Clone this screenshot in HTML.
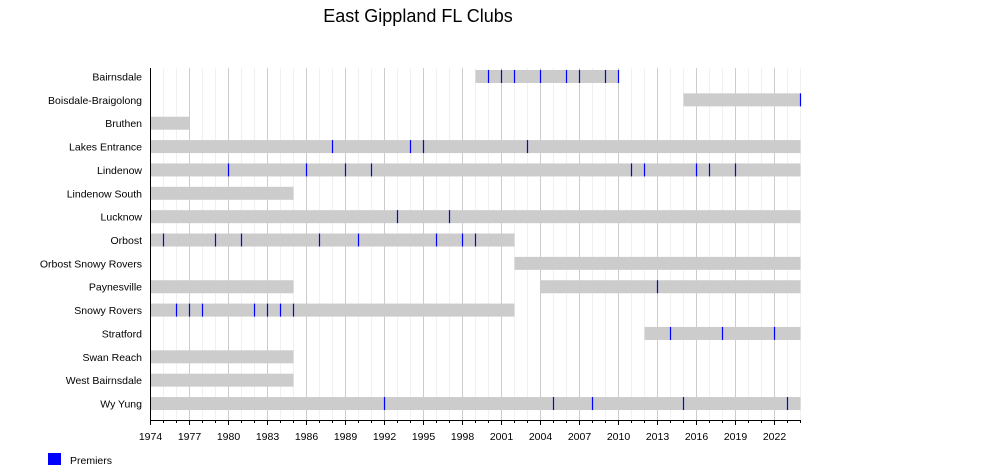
<!DOCTYPE html>
<html><head><meta charset="utf-8"><style>
body{margin:0;background:#fff}
svg text{font-family:"Liberation Sans",sans-serif}
</style></head><body>
<svg width="1000" height="470" xmlns="http://www.w3.org/2000/svg" id="s">
<text x="418" y="22" font-size="18" text-anchor="middle" fill="#000">East Gippland FL Clubs</text>
<g id="grid"></g><g id="bars"></g><g id="axis"></g>
<rect x="48" y="453" width="13" height="12" fill="#0000ff"/>
<text x="70" y="464" font-size="10.5">Premiers</text>
</svg>
<script>
(function(){
const NS="http://www.w3.org/2000/svg";
function el(p,t,a,txt){const e=document.createElementNS(NS,t);for(const k in a)e.setAttribute(k,a[k]);if(txt)e.textContent=txt;document.getElementById(p).appendChild(e);}
const X=y=>150.5+(y-1974)*13;
const T=68,B=420;
for(let y=1975;y<=2024;y++){el('grid','line',{x1:X(y),x2:X(y),y1:T,y2:B,stroke:(y-1974)%3==0?'#cccccc':'#f0f0f0','stroke-width':1});}
const rows=[
["Bairnsdale",[[1999,2010]],[2000,2001,2002,2004,2006,2007,2009,2010]],
["Boisdale-Braigolong",[[2015,2024]],[2024]],
["Bruthen",[[1974,1977]],[]],
["Lakes Entrance",[[1974,2024]],[1988,1994,1995,2003]],
["Lindenow",[[1974,2024]],[1980,1986,1989,1991,2011,2012,2016,2017,2019]],
["Lindenow South",[[1974,1985]],[]],
["Lucknow",[[1974,2024]],[1993,1997]],
["Orbost",[[1974,2002]],[1975,1979,1981,1987,1990,1996,1998,1999]],
["Orbost Snowy Rovers",[[2002,2024]],[]],
["Paynesville",[[1974,1985],[2004,2024]],[2013]],
["Snowy Rovers",[[1974,2002]],[1976,1977,1978,1982,1983,1984,1985]],
["Stratford",[[2012,2024]],[2014,2018,2022]],
["Swan Reach",[[1974,1985]],[]],
["West Bairnsdale",[[1974,1985]],[]],
["Wy Yung",[[1974,2024]],[1992,2005,2008,2015,2023]]];
rows.forEach((r,i)=>{const c=76.5+i*23.36;
el('axis','text',{x:142,y:c+4,'font-size':10.5,'text-anchor':'end'},r[0]);
r[1].forEach(s=>el('bars','rect',{x:X(s[0]),y:c-6.5,width:X(s[1])-X(s[0]),height:13,fill:'#cccccc'}));
r[2].forEach(p=>el('bars','line',{x1:X(p),x2:X(p),y1:c-6.5,y2:c+6.5,stroke:'#0000ff','stroke-width':1.2}));
});
el('axis','line',{x1:150.5,x2:150.5,y1:T,y2:B,stroke:'#000'});
el('axis','line',{x1:150,x2:801,y1:B+0.5,y2:B+0.5,stroke:'#000'});
for(let y=1974;y<=2024;y++){const m=(y-1974)%3==0;el('axis','line',{x1:X(y),x2:X(y),y1:B,y2:B+(m?5:3),stroke:'#000'});
if(m)el('axis','text',{x:X(y),y:B+20,'font-size':10.5,'text-anchor':'middle'},String(y));}
})();
</script>
</body></html>
